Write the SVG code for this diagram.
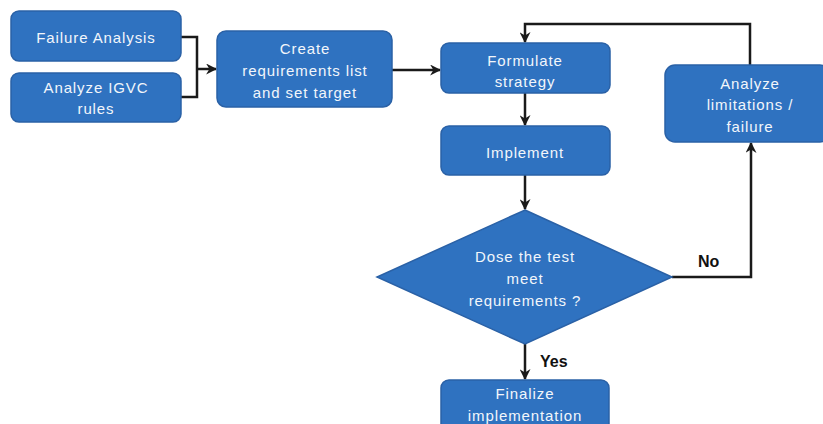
<svg xmlns="http://www.w3.org/2000/svg" width="823" height="424" viewBox="0 0 823 424">
<defs>
<marker id="ah" viewBox="0 0 10 10" refX="9" refY="5" markerWidth="11" markerHeight="11" orient="auto" markerUnits="userSpaceOnUse">
<path d="M0,0 L10,5 L0,10 L3,5 Z" fill="#1a1a1a"/>
</marker>
<style>
.box{fill:#2f72c0;stroke:#2a61a6;stroke-width:1.5}
.t{font-family:"Liberation Sans",Arial,sans-serif;font-size:15px;fill:#f2f6fb;text-anchor:middle;dominant-baseline:central;letter-spacing:0.9px}
.c{fill:none;stroke:#1a1a1a;stroke-width:2.5}
.lbl{font-family:"Liberation Sans",Arial,sans-serif;font-size:16px;font-weight:bold;fill:#111}
</style>
</defs>
<rect width="823" height="424" fill="#ffffff"/>
<g id="connectors">
<path class="c" d="M181,37 H197 V97 H181"/>
<path class="c" d="M197,69 H216" marker-end="url(#ah)"/>
<path class="c" d="M392,70 H440" marker-end="url(#ah)"/>
<path class="c" d="M525,93 V125" marker-end="url(#ah)"/>
<path class="c" d="M525,175 V209" marker-end="url(#ah)"/>
<path class="c" d="M525,344 V379" marker-end="url(#ah)"/>
<path class="c" d="M672,277 H751 V143" marker-end="url(#ah)"/>
<path class="c" d="M750,65 V24 H525 V42" marker-end="url(#ah)"/>
</g>
<g id="failure-analysis">
<rect class="box" x="11" y="11" width="170" height="50" rx="8"/>
<text class="t" x="96" y="37">Failure Analysis</text>
</g>
<g id="analyze-igvc">
<rect class="box" x="11" y="73" width="170" height="49" rx="8"/>
<text class="t" x="96" y="87">Analyze IGVC</text>
<text class="t" x="96" y="108">rules</text>
</g>
<g id="create-requirements">
<rect class="box" x="217" y="31" width="175" height="76" rx="9"/>
<text class="t" x="305" y="48">Create</text>
<text class="t" x="305" y="70">requirements list</text>
<text class="t" x="305" y="92">and set target</text>
</g>
<g id="formulate-strategy">
<rect class="box" x="441" y="43" width="169" height="50" rx="8"/>
<text class="t" x="525" y="60">Formulate</text>
<text class="t" x="525" y="81">strategy</text>
</g>
<g id="implement">
<rect class="box" x="441" y="126" width="169" height="49" rx="8"/>
<text class="t" x="525" y="152">Implement</text>
</g>
<g id="analyze-limitations">
<rect class="box" x="665" y="65" width="165" height="77" rx="10"/>
<text class="t" x="750" y="83">Analyze</text>
<text class="t" x="750" y="104">limitations /</text>
<text class="t" x="750" y="126">failure</text>
</g>
<g id="decision">
<polygon class="box" points="525,210 672,277 525,344 377,277"/>
<text class="t" x="525" y="256">Dose the  test</text>
<text class="t" x="525" y="278">meet</text>
<text class="t" x="525" y="300">requirements ?</text>
</g>
<g id="finalize">
<rect class="box" x="441" y="380" width="168" height="60" rx="8"/>
<text class="t" x="525" y="393">Finalize</text>
<text class="t" x="525" y="415">implementation</text>
</g>
<text class="lbl" x="698" y="267">No</text>
<text class="lbl" x="540" y="367">Yes</text>
</svg>
